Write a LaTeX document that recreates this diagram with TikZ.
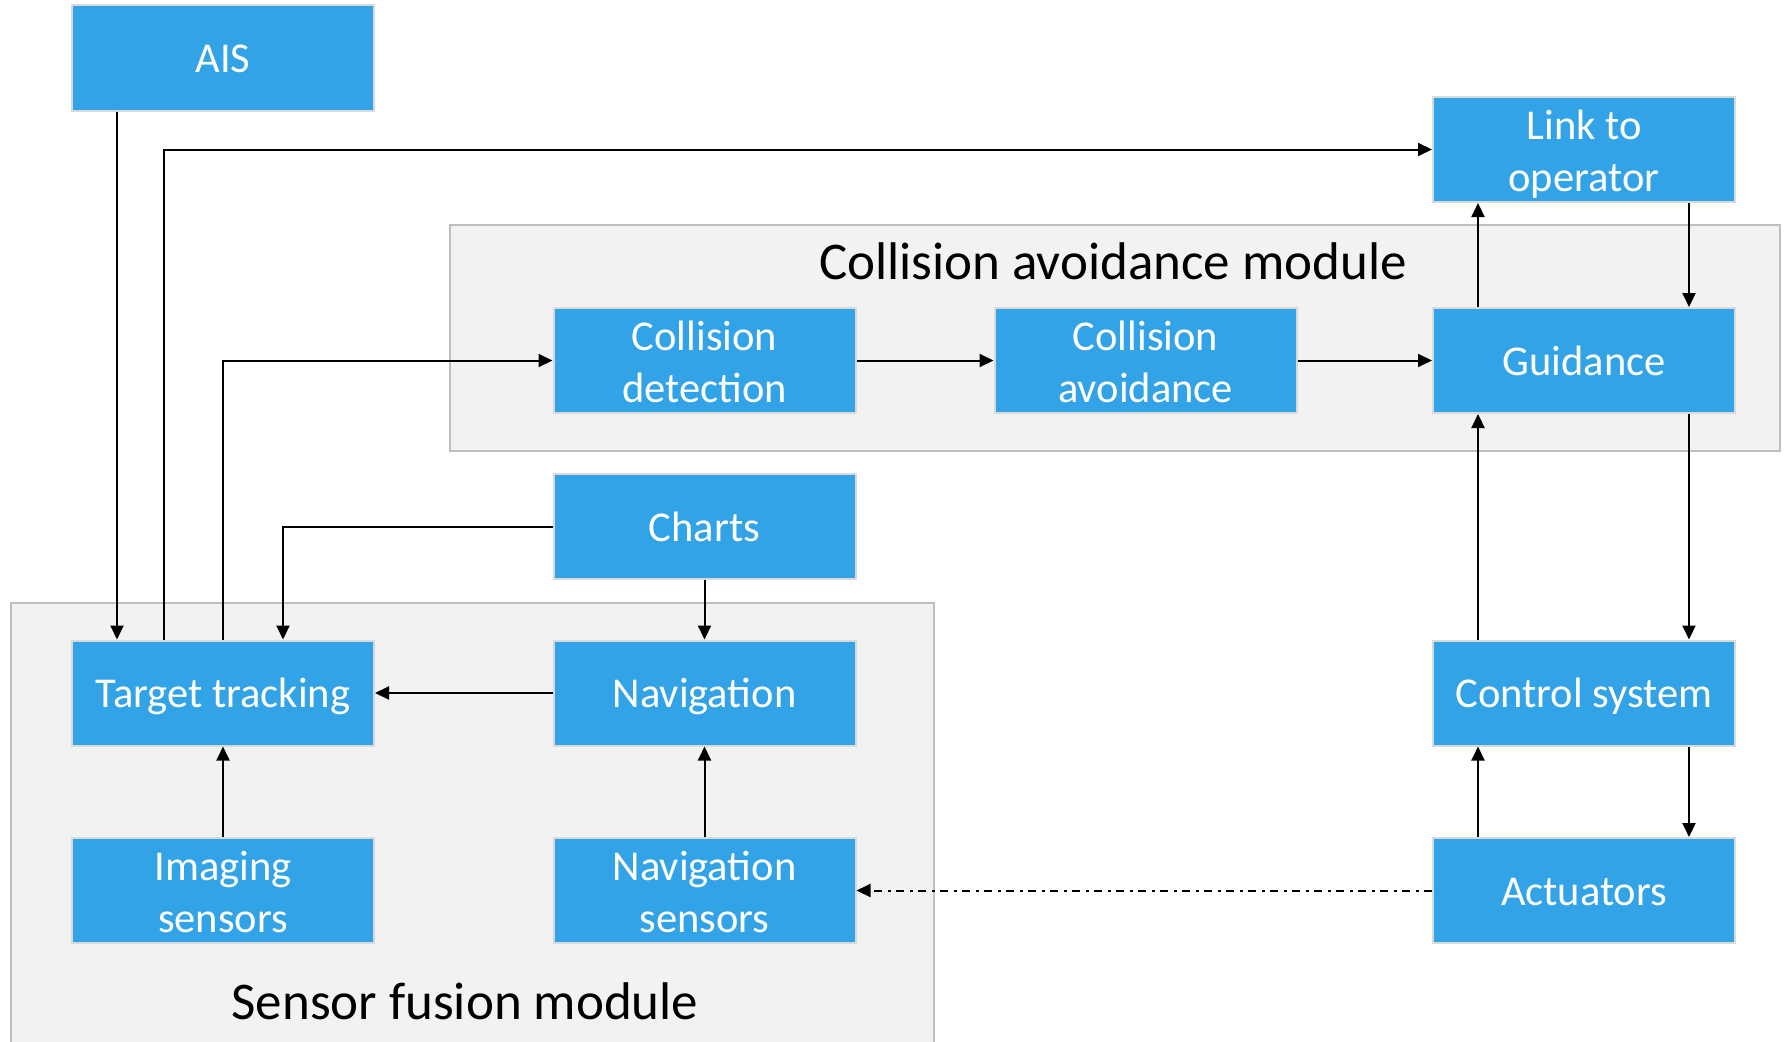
\documentclass[tikz,border=0pt]{standalone}
\usepackage{fontspec}
\setmainfont{Carlito}
\usetikzlibrary{arrows.meta}
\definecolor{boxblue}{HTML}{33A3E8}
\definecolor{boxedge}{HTML}{D9D9D9}
\definecolor{modfill}{HTML}{F2F2F2}
\definecolor{modedge}{HTML}{BFBFBF}
\tikzset{
  blk/.style={draw=boxedge, line width=2pt, fill=boxblue, text=white,
    minimum width=302pt, minimum height=105pt, inner sep=0pt, align=center,
    font=\fontsize{42.5}{52}\selectfont, text height=40.5pt, text depth=11.5pt},
  blktwo/.style={blk, text height=94pt, text depth=11pt},
  modbox/.style={draw=modedge, line width=2pt, fill=modfill},
  modlabel/.style={font=\fontsize{53}{60}\selectfont, text=black, inner sep=0pt},
  arr/.style={line width=2pt, -{Triangle[length=14pt,width=13pt]}},
  dasharr/.style={arr, dash pattern=on 8pt off 5pt on 3pt off 6pt},
}
\begin{document}
\begin{tikzpicture}[x=1pt,y=-1pt]
\useasboundingbox (0,0) rectangle (1787,1041);
\clip (0,0) rectangle (1787,1041);
% modules
\draw[modbox] (450,225) rectangle (1780,451);
\node[modlabel] (camlabel) at (1113,261) {Collision avoidance module};
\draw[modbox] (11,603) rectangle (934,1060);
\node[modlabel] (sfmlabel) at (465,1001) {Sensor fusion module};
% blocks
\node[blk] (ais) at (223,58) {AIS};
\node[blktwo] (link) at (1584,149.5) {Link to\\operator};
\node[blktwo] (cd) at (704.5,360.5) {Collision\\detection};
\node[blktwo] (ca) at (1145.5,360.5) {Collision\\avoidance};
\node[blk] (guid) at (1584,360.5) {Guidance};
\node[blk] (charts) at (704.5,526.5) {Charts};
\node[blk] (tt) at (223,693) {Target tracking};
\node[blk] (nav) at (704.5,693) {Navigation};
\node[blk] (cs) at (1584,693) {Control system};
\node[blktwo] (is) at (223,890.5) {Imaging\\sensors};
\node[blktwo] (ns) at (704.5,890.5) {Navigation\\sensors};
\node[blk] (act) at (1584,890.5) {Actuators};
% connectors
\draw[arr] ([xshift=-106pt]ais.south) -- ([xshift=-106pt]tt.north);
\draw[arr] ([xshift=-59pt]tt.north) |- (link.west);
\draw[arr] (tt.north) |- (cd.west);
\draw[arr] (charts.west) -| ([xshift=60pt]tt.north);
\draw[arr] (charts.south) -- (nav.north);
\draw[arr] (nav.west) -- (tt.east);
\draw[arr] (is.north) -- (tt.south);
\draw[arr] (ns.north) -- (nav.south);
\draw[arr] (cd.east) -- (ca.west);
\draw[arr] (ca.east) -- (guid.west);
\draw[arr] ([xshift=-106pt]guid.north) -- ([xshift=-106pt]link.south);
\draw[arr] ([xshift=105pt]link.south) -- ([xshift=105pt]guid.north);
\draw[arr] ([xshift=105pt]guid.south) -- ([xshift=105pt]cs.north);
\draw[arr] ([xshift=-106pt]cs.north) -- ([xshift=-106pt]guid.south);
\draw[arr] ([xshift=105pt]cs.south) -- ([xshift=105pt]act.north);
\draw[arr] ([xshift=-106pt]act.north) -- ([xshift=-106pt]cs.south);
\draw[dasharr] (act.west) -- (ns.east);
\end{tikzpicture}
\end{document}
